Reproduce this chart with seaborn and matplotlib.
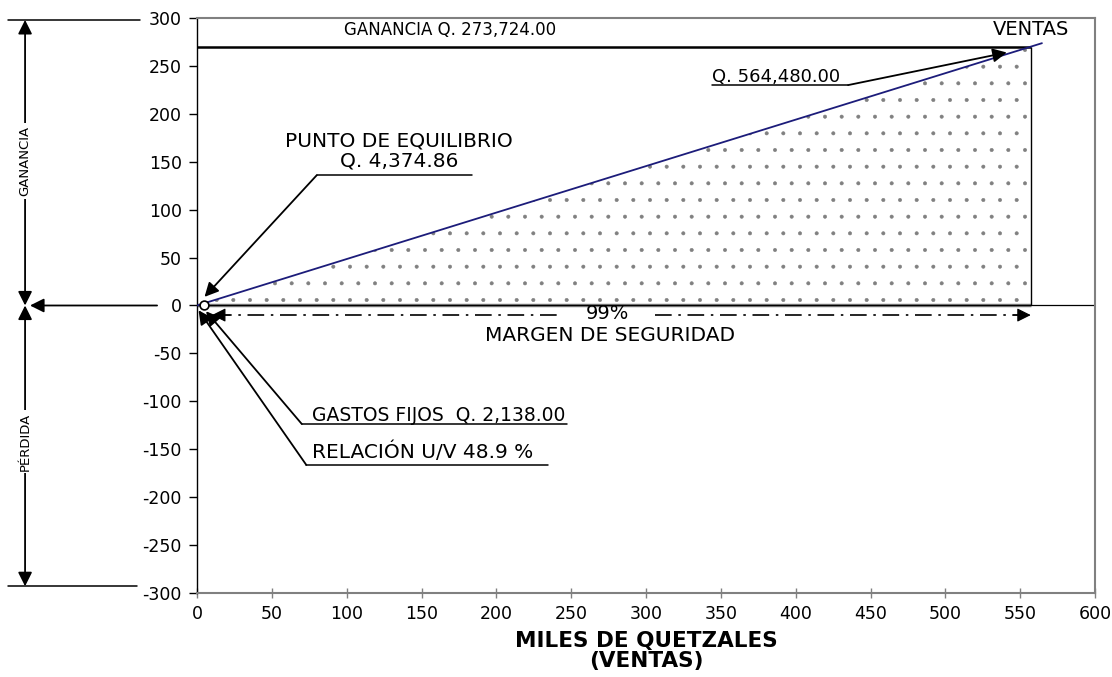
import matplotlib
matplotlib.use("Agg")
import matplotlib.pyplot as plt
import seaborn as sns
import numpy as np

sns.set_style("white")
plt.rcParams['font.family'] = ['DejaVu Sans']
plt.rcParams['text.color'] = 'black'
plt.rcParams['axes.labelcolor'] = 'black'
plt.rcParams['axes.unicode_minus'] = False
plt.rcParams['hatch.linewidth'] = 0.4
plt.rcParams['hatch.color'] = '#808080'

# data (miles de quetzales)
ventas_x = [0.0, 564.48]
ventas_y = [0.0, 273.724]
area_x = [0.0, 557.0]
area_y = [0.0, 270.0]
equilibrio_x = [4.37486]
equilibrio_y = [0.0]
x_ticks = list(range(0, 601, 50))
y_ticks = list(range(-300, 301, 50))

fig = plt.figure(figsize=(11.12, 6.77), dpi=100)
ax = fig.add_axes([0.1772, 0.1241, 0.8076, 0.8493])

# dotted area (ganancia)
ax.fill_between(area_x, 0, area_y, facecolor='white', edgecolor='#808080',
                hatch='.', linewidth=0, zorder=1)
ax.hlines(0, area_x[0], area_x[-1], color='#808080', lw=2.5, zorder=2)
ax.vlines(area_x[-1], 0, area_y[-1], color='black', lw=1, zorder=2)
ax.hlines(area_y[-1], area_x[0], area_x[-1], color='black', lw=1.8, zorder=2)
ax.axhline(0, color='black', lw=0.9, zorder=2)

sns.lineplot(x=ventas_x, y=ventas_y, color='#1c1c7a', lw=1.3, ax=ax, zorder=3)
sns.scatterplot(x=equilibrio_x, y=equilibrio_y, s=40, marker='o', facecolor='white',
                edgecolor='black', linewidth=1.2, ax=ax, zorder=4)

ax.set_xlim(0, 600)
ax.set_ylim(-300, 300)
ax.set_xticks(x_ticks)
ax.set_yticks(y_ticks)
ax.tick_params(axis='both', labelsize=12.5, colors='black')
ax.tick_params(axis='y', direction='out', length=6, width=1, pad=5, left=True)
ax.tick_params(axis='x', direction='inout', length=7, width=1, pad=5, bottom=True,
               color='#808080', labelcolor='black')
for s in ['top', 'right', 'bottom']:
    ax.spines[s].set_color('#808080')
    ax.spines[s].set_linewidth(1.5)
ax.spines['left'].set_color('black')
ax.spines['left'].set_linewidth(1)

ax.set_xlabel("MILES DE QUETZALES\n(VENTAS)", fontsize=15.5, fontweight='bold',
              labelpad=6, linespacing=1.0)

arrow = dict(arrowstyle='-|>,head_length=0.6,head_width=0.3', color='black',
             lw=1.3, mutation_scale=14, shrinkA=0, shrinkB=0)

# texts and leaders
ax.text(169, 287.5, "GANANCIA Q. 273,724.00", ha='center', va='center', fontsize=12)
ax.text(557, 287.5, "VENTAS", ha='center', va='center', fontsize=14)

ax.text(344, 233, "Q. 564,480.00", ha='left', va='baseline', fontsize=13)
ax.plot([344, 435], [230, 230], color='black', lw=1.1)
ax.annotate('', xy=(541, 264), xytext=(435, 230), arrowprops=arrow)

ax.text(135, 161, "PUNTO DE EQUILIBRIO\nQ. 4,374.86", ha='center', va='center',
        fontsize=14.5, linespacing=1.1)
ax.plot([80, 184], [136, 136], color='black', lw=1.1)
ax.annotate('', xy=(5, 9), xytext=(80, 136), arrowprops=arrow)

# margen de seguridad
dashdot = (0, (10, 4, 1.5, 4))
ax.plot([12, 242], [-10, -10], color='black', lw=1.2, linestyle=dashdot)
ax.plot([306, 553], [-10, -10], color='black', lw=1.2, linestyle=dashdot)
ax.annotate('', xy=(10, -10), xytext=(22, -10), arrowprops=dict(arrow, lw=0.8))
ax.annotate('', xy=(557, -10), xytext=(545, -10), arrowprops=dict(arrow, lw=0.8))
ax.text(274, -8, "99%", ha='center', va='center', fontsize=14)
ax.text(276, -31, "MARGEN DE SEGURIDAD", ha='center', va='center', fontsize=14.5)

ax.text(77, -120.5, "GASTOS FIJOS  Q. 2,138.00", ha='left', va='baseline', fontsize=13.5)
ax.plot([70, 247], [-123.7, -123.7], color='black', lw=1.1)
ax.annotate('', xy=(6, -6), xytext=(70, -123.7), arrowprops=arrow)

ax.text(77, -159, "RELACIÓN U/V 48.9 %", ha='left', va='baseline', fontsize=14.5)
ax.plot([73, 234.5], [-166.4, -166.4], color='black', lw=1.1)
ax.annotate('', xy=(1, -5), xytext=(73, -166.4), arrowprops=arrow)

# left side brackets (ganancia / perdida)
tr = ax.get_yaxis_transform()
ax.plot([-0.2105, -0.0635], [298, 298], color='black', lw=1.1, transform=tr, clip_on=False)
ax.plot([-0.2105, -0.0668], [-293, -293], color='black', lw=1.1, transform=tr, clip_on=False)
darrow = dict(arrow, arrowstyle='<|-|>,head_length=0.6,head_width=0.3')
ax.annotate('', xy=(-0.1915, 0), xytext=(-0.1915, 298), xycoords=tr, textcoords=tr,
            arrowprops=darrow, annotation_clip=False)
ax.annotate('', xy=(-0.1915, 0), xytext=(-0.1915, -293), xycoords=tr, textcoords=tr,
            arrowprops=darrow, annotation_clip=False)
ax.annotate('', xy=(-0.186, 0), xytext=(-0.0445, 0), xycoords=tr, textcoords=tr,
            arrowprops=arrow, annotation_clip=False)
ax.text(-0.1915, 151, "GANANCIA", rotation=90, ha='center', va='center', fontsize=9.5,
        transform=tr, bbox=dict(facecolor='white', edgecolor='none', pad=2))
ax.text(-0.1915, -142, "PÉRDIDA", rotation=90, ha='center', va='center', fontsize=9.5,
        transform=tr, bbox=dict(facecolor='white', edgecolor='none', pad=2))

fig.savefig("out.png", dpi=100)
